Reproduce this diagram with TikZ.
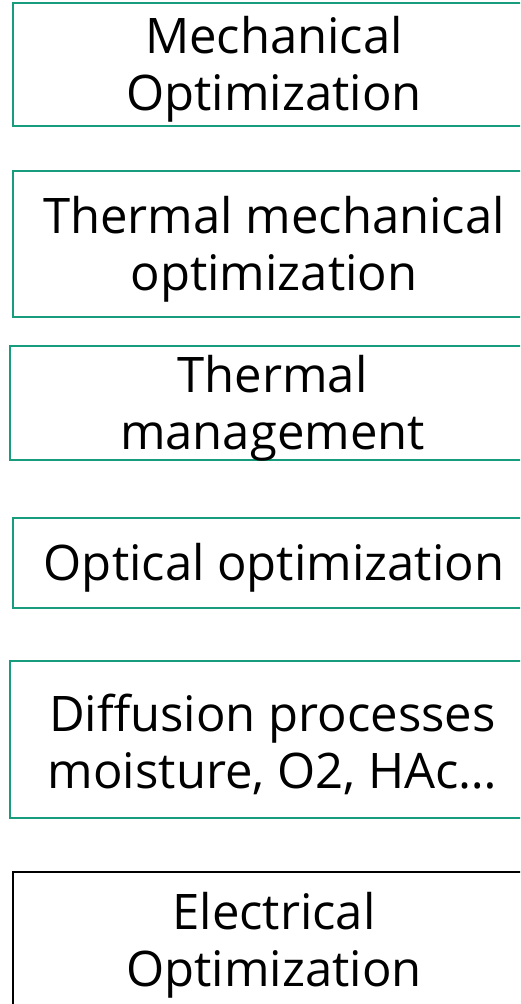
\documentclass[tikz,border=0pt]{standalone}
\usepackage{fontspec}
\setmainfont{Open Sans}
\usetikzlibrary{positioning}
\definecolor{fhgreen}{RGB}{23,156,125}
\tikzset{
  topicbox/.style={draw=fhgreen, line width=2pt, inner sep=0pt},
  topictext/.style={align=center, inner sep=0pt, font=\fontsize{49}{57}\selectfont}
}
\begin{document}
\begin{tikzpicture}[x=1pt, y=-1pt]
        \useasboundingbox (0,0) rectangle (520,1004);
        \clip (0,0) rectangle (520,1004);
        % Draw the green boxes, top to bottom
        \foreach \i/\xpos/\ypos/\boxw/\boxh/\txt in {1/274/64.5/522/123/{Mechanical\\Optimization},
            2/274/244/522/146/{Thermal mechanical\\optimization},
            3/272.5/403/525/114.5/{Thermal\\management},
            4/274/563/522/90/{Optical optimization},
            5/272.5/739.5/525/157/{Diffusion processes\\moisture, O2, HAc…}} {
            \node[topicbox, minimum width=\boxw pt, minimum height=\boxh pt] (box\i) at (\xpos,\ypos) {};
            % Text sits a little below the box centre
            \node[topictext, below=5pt of box\i.center, anchor=center] (text\i) {\txt};
          }
        % Last box has a black border
        \node[topicbox, draw=black, line width=1.5pt, minimum width=522pt, minimum height=137pt] (box6) at (274,940.5) {};
        \node[topictext, below=5pt of box6.center, anchor=center] (text6) {Electrical\\Optimization};
      \end{tikzpicture}
\end{document}
